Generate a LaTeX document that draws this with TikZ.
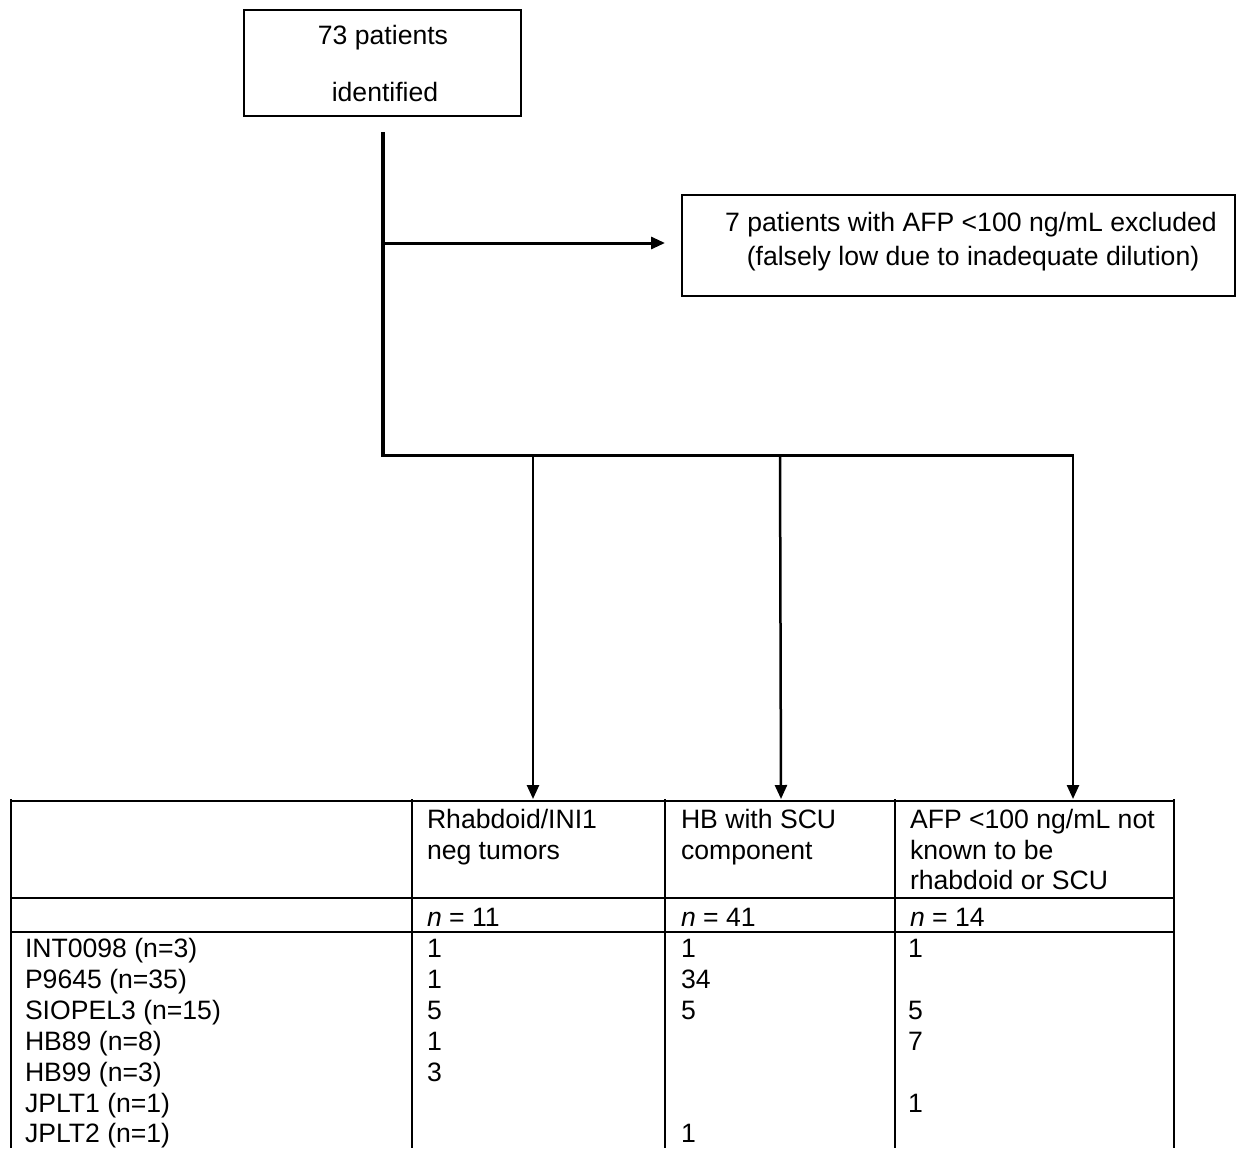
\documentclass[tikz,border=0pt]{standalone}
\usepackage{fontspec}
\setmainfont{Liberation Sans}
\usetikzlibrary{arrows.meta,calc}
\begin{document}
\begin{tikzpicture}[x=1pt,y=-1pt,
  every node/.style={font=\fontsize{26.6}{31.5}\selectfont, inner sep=0pt, outer sep=0pt},
  box/.style={draw, line width=2pt},
  arr/.style={-{Triangle[length=14pt,width=12pt]}, line width=2.5pt},
  gridline/.style={line width=2pt},
  txt/.style={anchor=base west},
  ctxt/.style={anchor=base}]
\useasboundingbox (0,0) rectangle (1236,1148);

% top box
\node[box, minimum width=277pt, minimum height=106pt] (top) at (382.5,63) {};
\node[ctxt] (top1) at (383,45) {73 patients};
\node[ctxt] (top2) at (385,101.5) {identified};

% exclusion box
\node[box, minimum width=553pt, minimum height=101pt] (excl) at (958.5,245.5) {};
\node[ctxt] (ex1) at (971,231.5) {7 patients with AFP <100 ng/mL excluded};
\node[ctxt] (ex2) at (973,265.5) {(falsely low due to inadequate dilution)};

% main trunk
\coordinate (m0) at (383,132);
\coordinate (split) at (383,243);
\coordinate (m1) at (383,455);
\coordinate (b1) at (533,455);
\coordinate (b2) at (780,455);
\coordinate (b3) at (1073,455);
\coordinate (a1) at (533,799);
\coordinate (a2) at (781,799);
\coordinate (a3) at (1073,799);

\draw[line width=4pt] (m0) -- (m1);
\draw[line width=3pt] ($(m1)+(-2,0)$) -- ($(b3)+(1.25,0)$);
\draw[arr, line width=3pt] (split) -- ($(split -| excl.west)+(-17,0)$);
\draw[arr] (b1) -- (a1);
\draw[arr] (b2) -- (a2);
\draw[arr] (b3) -- (a3);

% table grid
\draw[gridline] (10,801) -- (1175,801);
\draw[gridline] (10,898) -- (1175,898);
\draw[gridline] (10,932) -- (1175,932);
\foreach \x in {11,412,665,895,1174}{
  \draw[gridline] (\x,799) -- (\x,1148);
}

% header texts
\node[txt] (h2a) at (427,828.5) {Rhabdoid/INI1};
\node[txt] (h2b) at (427,859) {neg tumors};
\node[txt] (h3a) at (681,828.5) {HB with SCU};
\node[txt] (h3b) at (681,859) {component};
\node[txt] (h4a) at (910,828.5) {AFP <100 ng/mL not};
\node[txt] (h4b) at (910,859) {known to be};
\node[txt] (h4c) at (910,889.5) {rhabdoid or SCU};

\node[txt] (n2) at (427,926) {\textit{n} = 11};
\node[txt] (n3) at (681,926) {\textit{n} = 41};
\node[txt] (n4) at (910,926) {\textit{n} = 14};

% data rows
\foreach \lab/\va/\vb/\vc [count=\i from 0] in {
  INT0098 (n=3)/1/1/1,
  P9645 (n=35)/1/34/,
  SIOPEL3 (n=15)/5/5/5,
  HB89 (n=8)/1//7,
  HB99 (n=3)/3//,
  JPLT1 (n=1)///1,
  JPLT2 (n=1)//1/}{
  \node[txt] (L\i) at (25,957.5+30.9*\i) {\lab};
  \node[txt] (A\i) at (427,957.5+30.9*\i) {\va};
  \node[txt] (B\i) at (681,957.5+30.9*\i) {\vb};
  \node[txt] (C\i) at (908,957.5+30.9*\i) {\vc};
}
\end{tikzpicture}
\end{document}
